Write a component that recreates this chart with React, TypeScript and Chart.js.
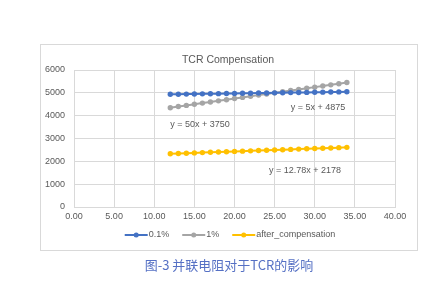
import React, { useEffect, useRef } from "react";
import { Chart, registerables } from "chart.js";

Chart.register(...registerables);

const xValues = [12, 13, 14, 15, 16, 17, 18, 19, 20, 21, 22, 23, 24, 25, 26, 27, 28, 29, 30, 31, 32, 33, 34];
const series01 = [4935, 4940, 4945, 4950, 4955, 4960, 4965, 4970, 4975, 4980, 4985, 4990, 4995, 5000, 5005, 5010, 5015, 5020, 5025, 5030, 5035, 5040, 5045];
const series1 = [4350, 4400, 4450, 4500, 4550, 4600, 4650, 4700, 4750, 4800, 4850, 4900, 4950, 5000, 5050, 5100, 5150, 5200, 5250, 5300, 5350, 5400, 5450];
const seriesAfter = [2331, 2344, 2357, 2370, 2382, 2395, 2408, 2421, 2434, 2446, 2459, 2472, 2485, 2498, 2510, 2523, 2536, 2549, 2561, 2574, 2587, 2600, 2613];
const seriesNames = ["0.1%", "1%", "after_compensation"];
const seriesColors = ["#4472C4", "#A5A5A5", "#FFC000"];
const trendLabels = [
  { text: "y = 5x + 4875", x: 27, y: 4370 },
  { text: "y = 50x + 3750", x: 12, y: 3630 },
  { text: "y = 12.78x + 2178", x: 24.3, y: 1580 },
];
const chartTitle = "TCR Compensation";
const caption = "图-3 并联电阻对于TCR的影响";

const FONT = "'Liberation Sans', Arial, sans-serif";
const TXT = "#595959";

export default function App() {
  const ref = useRef<HTMLCanvasElement | null>(null);
  useEffect(() => {
    document.body.style.margin = "0";
    const canvas = ref.current!;
    const all = [series01, series1, seriesAfter];
    const extras = {
      id: "extras",
      beforeDraw(chart: any) {
        const c = chart.ctx;
        c.save();
        c.fillStyle = "#ffffff";
        c.fillRect(0, 0, chart.width, chart.height);
        c.strokeStyle = "#D9D9D9";
        c.lineWidth = 1;
        c.strokeRect(40.5, 44.5, 377, 206);
        c.fillStyle = TXT;
        c.font = `10.5px ${FONT}`;
        c.textAlign = "center";
        c.textBaseline = "middle";
        c.fillText(chartTitle, 228, 60);
        c.restore();
      },
      afterDraw(chart: any) {
        const c = chart.ctx;
        const xs = chart.scales.x;
        const ys = chart.scales.y;
        c.save();
        c.fillStyle = TXT;
        c.font = `9px ${FONT}`;
        c.textBaseline = "middle";
        c.textAlign = "left";
        trendLabels.forEach((t) => {
          c.fillText(t.text, xs.getPixelForValue(t.x), ys.getPixelForValue(t.y));
        });
        // legend
        const lineLen = 23;
        const gap = 13;
        const widths = seriesNames.map((n) => lineLen + 1 + c.measureText(n).width);
        const total = widths.reduce((a, b) => a + b, 0) + gap * (seriesNames.length - 1);
        let lx = 230 - total / 2;
        const ly = 235;
        seriesNames.forEach((n, i) => {
          c.strokeStyle = seriesColors[i];
          c.lineWidth = 2;
          c.beginPath();
          c.moveTo(lx, ly);
          c.lineTo(lx + lineLen, ly);
          c.stroke();
          c.fillStyle = seriesColors[i];
          c.beginPath();
          c.arc(lx + lineLen / 2, ly, 2.5, 0, Math.PI * 2);
          c.fill();
          c.fillStyle = TXT;
          c.fillText(n, lx + lineLen + 1, ly);
          lx += widths[i] + gap;
        });
        c.font = `13px 'Noto Sans CJK SC', sans-serif`;
        c.fillStyle = "#5570C4";
        c.textAlign = "center";
        c.fillText(caption, 229, 265);
        c.restore();
      },
    };
    const chart = new Chart(canvas, {
      type: "line",
      data: {
        datasets: all.map((s, i) => ({
          label: seriesNames[i],
          data: xValues.map((x, j) => ({ x, y: s[j] })),
          borderColor: seriesColors[i],
          backgroundColor: seriesColors[i],
          borderWidth: 2,
          pointRadius: 2.7,
          pointBorderWidth: 0,
          pointBackgroundColor: seriesColors[i],
          tension: 0,
        })),
      },
      options: {
        animation: false,
        responsive: false,
        devicePixelRatio: 1,
        layout: { padding: { top: 70, left: 0, right: 45, bottom: 0 } },
        plugins: { legend: { display: false }, title: { display: false }, tooltip: { enabled: false } },
        scales: {
          x: {
            type: "linear",
            min: 0,
            max: 40,
            ticks: {
              stepSize: 5,
              color: TXT,
              font: { family: FONT, size: 9 },
              padding: 4,
              maxRotation: 0,
              callback: (v: any) => Number(v).toFixed(2),
            },
            grid: { color: "#D9D9D9", drawTicks: false },
            border: { color: "#D9D9D9" },
            afterFit: (s: any) => { s.height = 82; },
          },
          y: {
            min: 0,
            max: 6000,
            ticks: {
              stepSize: 1000,
              color: TXT,
              font: { family: FONT, size: 9 },
              padding: 9,
              callback: (v: any) => String(v),
            },
            grid: { color: "#D9D9D9", drawTicks: false },
            border: { color: "#D9D9D9" },
            afterFit: (s: any) => { s.width = 74; },
          },
        },
      },
      plugins: [extras],
    });
    return () => chart.destroy();
  }, []);
  return (
    <div style={{ width: 440, height: 289, position: "relative" }}>
      <canvas ref={ref} width={440} height={289} style={{ display: "block" }} />
    </div>
  );
}
